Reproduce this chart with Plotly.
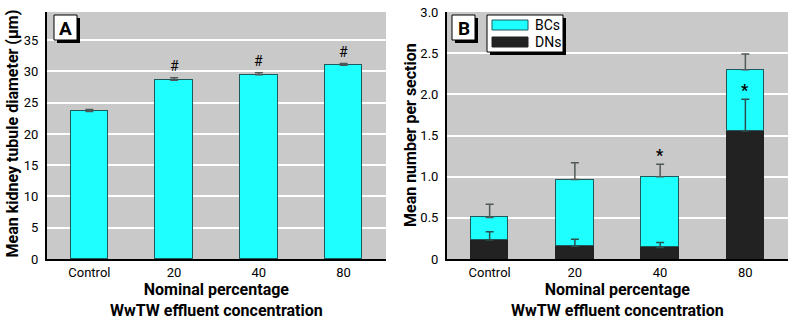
import plotly.graph_objects as go

W, H = 793, 321

# ---- data ----
categories = ["Control", "20", "40", "80"]

# Panel A: mean kidney tubule diameter (µm)
diam_mean = [23.6, 28.6, 29.45, 31.0]
diam_err = [0.3, 0.4, 0.35, 0.25]
diam_sig = ["", "#", "#", "#"]

# Panel B: mean number per section
dn_mean = [0.23, 0.155, 0.14, 1.555]
dn_err = [0.10, 0.085, 0.06, 0.385]
total_mean = [0.505, 0.965, 1.0, 2.3]
total_err = [0.16, 0.205, 0.15, 0.19]
bc_mean = [t - d for t, d in zip(total_mean, dn_mean)]
b_sig = ["", "", "*", "*"]  # placed above BC error (40) / DN error (80)

a_ticks = [0, 5, 10, 15, 20, 25, 30, 35]
b_ticks = [0, 0.5, 1.0, 1.5, 2.0, 2.5, 3.0]
b_ticktext = ["0", "0.5", "1.0", "1.5", "2.0", "2.5", "3.0"]

# ---- style ----
FONT = "Roboto, Liberation Sans, sans-serif"
CYAN = "#1effff"
OUTLINE = "#1f5a5a"
DARK = "#222222"
BG = "#c9c9c9"
ERR = "#505858"


def px(x):
    return x / W


def py(y):
    return 1 - y / H


fig = go.Figure()

# Panel A bars
fig.add_trace(go.Bar(x=categories, y=diam_mean, width=0.44,
                     marker=dict(color=CYAN, line=dict(color=OUTLINE, width=1.3)),
                     xaxis="x", yaxis="y", showlegend=False))
fig.add_trace(go.Scatter(x=categories, y=diam_mean, mode="markers",
                         marker=dict(size=1, opacity=0),
                         error_y=dict(type="data", array=diam_err, arrayminus=[0] * 4,
                                      color=ERR, thickness=1.5, width=4),
                         xaxis="x", yaxis="y", showlegend=False, hoverinfo="skip"))

# Panel B stacked bars
fig.add_trace(go.Bar(x=categories, y=dn_mean, width=0.44, name="DNs",
                     marker=dict(color=DARK, line=dict(color=DARK, width=1)),
                     xaxis="x2", yaxis="y2", showlegend=False))
fig.add_trace(go.Bar(x=categories, y=bc_mean, width=0.44, name="BCs",
                     marker=dict(color=CYAN, line=dict(color=OUTLINE, width=1.3)),
                     xaxis="x2", yaxis="y2", showlegend=False))
fig.add_trace(go.Scatter(x=categories, y=total_mean, mode="markers",
                         marker=dict(size=1, opacity=0),
                         error_y=dict(type="data", array=total_err, arrayminus=[0] * 4,
                                      color=ERR, thickness=1.5, width=4),
                         xaxis="x2", yaxis="y2", showlegend=False, hoverinfo="skip"))
fig.add_trace(go.Scatter(x=categories, y=dn_mean, mode="markers",
                         marker=dict(size=1, opacity=0),
                         error_y=dict(type="data", array=dn_err, arrayminus=[0] * 4,
                                      color="#2c4f4f", thickness=1.5, width=4),
                         xaxis="x2", yaxis="y2", showlegend=False, hoverinfo="skip"))

annotations = []
# significance marks (x given as category index)
for i, (m, e, s) in enumerate(zip(diam_mean, diam_err, diam_sig)):
    if s:
        annotations.append(dict(x=i, y=m + e, xref="x", yref="y", text=s, showarrow=False,
                                xanchor="center", yanchor="bottom", yshift=2,
                                font=dict(family=FONT, size=14, color="black")))
for i, s in enumerate(b_sig):
    if s:
        base = total_mean[i] + total_err[i] if i == 2 else dn_mean[i] + dn_err[i]
        annotations.append(dict(x=i, y=base, xref="x2", yref="y2", text="<b>*</b>", showarrow=False,
                                xanchor="center", yanchor="bottom", yshift=-3,
                                font=dict(family=FONT, size=16, color="black")))


def ptext(x, y, text, size, angle=0, xanchor="center", bold=True):
    return dict(x=px(x), y=py(y), xref="paper", yref="paper", text=("<b>%s</b>" % text) if bold else text,
                textangle=angle, showarrow=False, xanchor=xanchor, yanchor="middle",
                font=dict(family=FONT, size=size, color="black"))


# axis titles
annotations += [
    ptext(12, 133.5, "Mean kidney tubule diameter (µm)", 16, angle=-90),
    ptext(411, 135, "Mean number per section", 16, angle=-90),
]
for cx in (216.5, 617.5):
    annotations.append(ptext(cx, 300, "Nominal percentage<br>WwTW effluent concentration", 16))

shapes = []


def box(x0, y0, x1, y1, fill, line="black", lw=1):
    return dict(type="rect", xref="paper", yref="paper", x0=px(x0), x1=px(x1), y0=py(y1), y1=py(y0),
                fillcolor=fill, line=dict(color=line, width=lw), layer="above")


# panel labels with drop shadows
label_boxes = [(54, "A"), (452, "B")]
for (x0, lab) in label_boxes:
    shapes.append(box(x0 + 3, 18, x0 + 26, 43, "black", lw=0))
    shapes.append(box(x0, 15, x0 + 23, 40, "white"))
    annotations.append(ptext(x0 + 11.5, 28, lab, 19))

# legend for panel B
shapes.append(box(490, 18, 566, 55, "black", lw=0))
shapes.append(box(487, 15, 563, 52, "white"))
shapes.append(box(492, 20, 528, 30, CYAN, line=OUTLINE))
shapes.append(box(492, 37, 528, 47, DARK, line=DARK))
for yy, t in ((25, "BCs"), (42, "DNs")):
    annotations.append(ptext(533, yy, t, 14, xanchor="left", bold=False))

tick_font = dict(family=FONT, size=13, color="black")
common_x = dict(type="category", range=[-0.5, 3.5], showline=True, linecolor="black", linewidth=2,
                ticks="", showgrid=False, tickfont=tick_font, fixedrange=True, automargin=False)
common_y = dict(showline=True, linecolor="black", linewidth=2, ticks="", showgrid=True,
                gridcolor="white", gridwidth=1.5, zeroline=False, tickfont=tick_font,
                ticklabelstandoff=4, automargin=False)

fig.update_layout(
    template="none",
    width=W, height=H,
    margin=dict(l=0, r=0, t=0, b=0),
    paper_bgcolor="white", plot_bgcolor=BG,
    barmode="stack", bargap=0,
    xaxis=dict(domain=[px(47), px(386)], anchor="y", **common_x),
    yaxis=dict(domain=[py(259), py(12)], anchor="x", range=[0, 39.5], tickvals=a_ticks, **common_y),
    xaxis2=dict(domain=[px(447), px(788)], anchor="y2", **common_x),
    yaxis2=dict(domain=[py(259), py(12)], anchor="x2", range=[0, 3.0], tickvals=b_ticks,
                ticktext=b_ticktext, **common_y),
    annotations=annotations,
    shapes=shapes,
    font=dict(family=FONT),
)

fig.write_html("out.html", config={"displayModeBar": False},
               post_script="document.body.style.margin='0';")
